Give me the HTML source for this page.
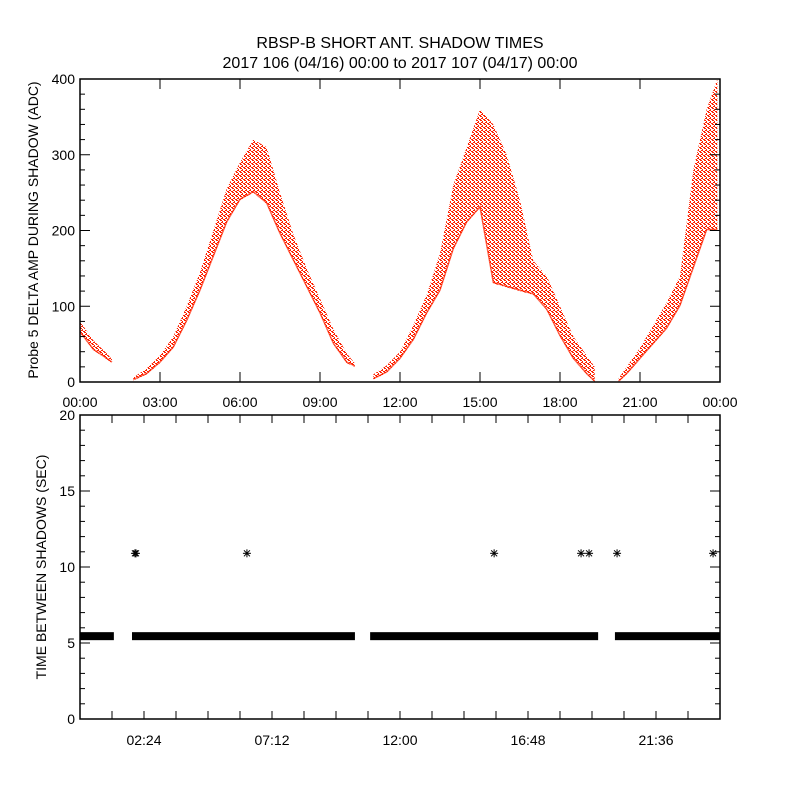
<!DOCTYPE html>
<html><head><meta charset="utf-8"><style>
html,body{margin:0;padding:0;background:#fff;}
svg text{font-family:"Liberation Sans",sans-serif;fill:#000;}
</style></head><body>
<svg id="c" width="800" height="800" xmlns="http://www.w3.org/2000/svg">
<text x="400" y="48" font-size="16" text-anchor="middle">RBSP-B SHORT ANT. SHADOW TIMES</text>
<text x="400" y="68" font-size="16" text-anchor="middle">2017 106 (04/16) 00:00 to 2017 107 (04/17) 00:00</text>
<g id="topPanel"></g>
<g id="botPanel"></g>
</svg>
<script>
// ---- data: amplitude envelopes (hours, low, high) per shadow pass ----
const seg1Hours=[0,0.5,1.0,1.2];
const seg1Lo=[65,42,30,25];
const seg1Hi=[80,55,38,30];
const seg2Hours=[2.0,2.5,3.0,3.5,4.0,4.5,5.0,5.5,6.0,6.5,7.0,7.5,8.0,8.5,9.0,9.5,10.0,10.3];
const seg2Lo=[2,10,25,45,80,120,165,210,240,250,235,195,160,125,90,50,25,20];
const seg2Hi=[6,18,35,60,100,145,200,255,290,320,310,250,195,150,110,70,38,25];
const seg3Hours=[11.0,11.5,12.0,12.5,13.0,13.5,14.0,14.5,15.0,15.5,16.0,16.5,17.0,17.5,18.0,18.5,19.0,19.3];
const seg3Lo=[3,12,30,55,90,120,175,210,230,130,125,120,115,95,60,30,10,0];
const seg3Hi=[10,22,40,75,115,170,260,310,360,340,300,240,160,140,100,60,35,20];
const seg4Hours=[20.2,20.5,21.0,21.5,22.0,22.5,23.0,23.5,23.9];
const seg4Lo=[0,10,30,50,70,100,150,200,200];
const seg4Hi=[5,20,45,75,105,140,280,360,400];
const topTickLabels=["00:00","03:00","06:00","09:00","12:00","15:00","18:00","21:00","00:00"];
const topYTicks=[0,100,200,300,400];
// ---- data: time between shadows ----
const runStart=[0,1.95,10.88,20.06];
const runEnd=[1.27,10.31,19.43,24];
const runValue=[5.45,5.45,5.45,5.45];
const outlierHours=[2.06,2.1,6.26,15.53,18.79,19.09,20.14,23.74];
const outlierValues=[10.9,10.9,10.9,10.9,10.9,10.9,10.9,10.9];
const botTickLabels=["02:24","07:12","12:00","16:48","21:36"];
const botYTicks=[0,5,10,15,20];

const NS="http://www.w3.org/2000/svg";
function mk(p,t,a){const e=document.createElementNS(NS,t);for(const k in a)e.setAttribute(k,a[k]);p.appendChild(e);return e;}
const X0=80,X1=720;
const x=h=>X0+h/24*(X1-X0);
const T0=382,T1=79; const yT=v=>T0-v/400*(T0-T1);
const B0=719,B1=415; const yB=v=>B0-v/20*(B0-B1);
const topG=document.getElementById('topPanel'), botG=document.getElementById('botPanel');

const defs=mk(document.getElementById('c'),'defs',{});
const pat=mk(defs,'pattern',{id:'dots',width:'4',height:'4',patternUnits:'userSpaceOnUse'});
[[0,0,2],[2,1,1],[1,2,2],[3,3,1],[0,3,1]].forEach(d=>mk(pat,'rect',{x:d[0],y:d[1],width:d[2],height:1,fill:'#ff2200'}));

[[seg1Hours,seg1Lo,seg1Hi],[seg2Hours,seg2Lo,seg2Hi],[seg3Hours,seg3Lo,seg3Hi],[seg4Hours,seg4Lo,seg4Hi]].forEach((s,i)=>{
  const [H,L,U]=s;let pts=[];
  for(let k=0;k<H.length;k++)pts.push(x(H[k])+','+yT(U[k]));
  for(let k=H.length-1;k>=0;k--)pts.push(x(H[k])+','+yT(L[k]));
  const p=mk(topG,'polygon',{points:pts.join(' '),fill:'url(#dots)'});
  
  
  let pl=[];for(let k=0;k<H.length;k++)pl.push(x(H[k])+','+(yT(L[k])-1));
  const l=mk(topG,'polyline',{points:pl.join(' '),fill:'none',stroke:'#ff2200','stroke-width':1.5,'stroke-opacity':0.7});
  
  
});

const tf=mk(topG,'rect',{x:X0,y:T1,width:X1-X0,height:T0-T1,fill:'none',stroke:'#000','stroke-width':1.5});


for(let v=0;v<=400;v+=20){const maj=v%100===0,len=maj?10:5;
  mk(topG,'line',{x1:X0,x2:X0+len,y1:yT(v),y2:yT(v),stroke:'#000'});
  mk(topG,'line',{x1:X1,x2:X1-len,y1:yT(v),y2:yT(v),stroke:'#000'});}
topYTicks.forEach(v=>{const t=mk(topG,'text',{x:X0-5,y:yT(v)+5,'font-size':14,'text-anchor':'end'});t.textContent=v;
  
  });
topTickLabels.forEach((s,i)=>{const xx=x(i*3);
  mk(topG,'line',{x1:xx,x2:xx,y1:T0,y2:T0-10,stroke:'#000'});
  mk(topG,'line',{x1:xx,x2:xx,y1:T1,y2:T1+10,stroke:'#000'});
  const t=mk(topG,'text',{x:xx,y:407,'font-size':14,'text-anchor':'middle'});t.textContent=s;
  
  });
const ty=mk(topG,'text',{x:0,y:0,'font-size':14,'text-anchor':'middle',transform:'translate(38,230) rotate(-90)'});
ty.textContent='Probe 5 DELTA AMP DURING SHADOW (ADC)';



runStart.forEach((s,i)=>{const r=mk(botG,'rect',{x:x(s),y:yB(runValue[i])-4,width:x(runEnd[i])-x(s),height:8,fill:'#000'});
  
  });
outlierHours.forEach((h,i)=>{const cx=x(h),cy=yB(outlierValues[i]);const g=mk(botG,'g',{stroke:'#000','stroke-width':1});
  
  
  mk(g,'line',{x1:cx-4,x2:cx+4,y1:cy,y2:cy});mk(g,'line',{x1:cx,x2:cx,y1:cy-4,y2:cy+4});
  mk(g,'line',{x1:cx-3,x2:cx+3,y1:cy-3,y2:cy+3});mk(g,'line',{x1:cx-3,x2:cx+3,y1:cy+3,y2:cy-3});});
const bf=mk(botG,'rect',{x:X0,y:B1,width:X1-X0,height:B0-B1,fill:'none',stroke:'#000','stroke-width':1.5});


for(let v=0;v<=20;v++){const maj=v%5===0,len=maj?10:5;
  mk(botG,'line',{x1:X0,x2:X0+len,y1:yB(v),y2:yB(v),stroke:'#000'});
  mk(botG,'line',{x1:X1,x2:X1-len,y1:yB(v),y2:yB(v),stroke:'#000'});}
botYTicks.forEach(v=>{const t=mk(botG,'text',{x:X0-5,y:yB(v)+5,'font-size':14,'text-anchor':'end'});t.textContent=v;
  
  });
for(let k=1;k<20;k++){const xx=x(k*1.2);
  mk(botG,'line',{x1:xx,x2:xx,y1:B0,y2:B0-8,stroke:'#000'});
  mk(botG,'line',{x1:xx,x2:xx,y1:B1,y2:B1+8,stroke:'#000'});}
botTickLabels.forEach((s,i)=>{const t=mk(botG,'text',{x:x(2.4+i*4.8),y:745,'font-size':14,'text-anchor':'middle'});t.textContent=s;
  
  });
const by=mk(botG,'text',{x:0,y:0,'font-size':14,'text-anchor':'middle',transform:'translate(46,567) rotate(-90)'});
by.textContent='TIME BETWEEN SHADOWS (SEC)';


</script>
</body></html>
